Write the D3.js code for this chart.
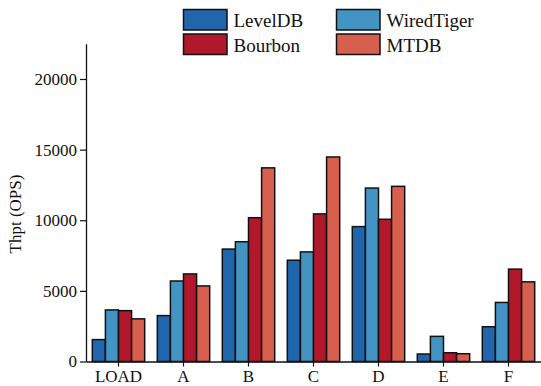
<!DOCTYPE html>
<html>
<head>
<meta charset="utf-8">
<script src="https://cdn.jsdelivr.net/npm/d3@7"></script>
<style>
  html, body { margin: 0; padding: 0; background: #fff; }
  svg { display: block; }
  text { font-family: "Liberation Serif", "Times New Roman", serif; fill: #111; }
</style>
</head>
<body>
<svg id="chart" width="541" height="386"></svg>
<script>
// Workloads (YCSB) and stores compared
const categories = ["LOAD", "A", "B", "C", "D", "E", "F"];
const seriesNames = ["LevelDB", "WiredTiger", "Bourbon", "MTDB"];
const seriesColors = ["#2166ac", "#4393c3", "#b2182b", "#d6604d"];

// Throughput per workload (ops/s)
const levelDB    = [1550, 3250, 7960, 7170, 9550, 530, 2460];
const wiredTiger = [3650, 5700, 8480, 7760, 12280, 1780, 4180];
const bourbon    = [3600, 6200, 10180, 10450, 10070, 620, 6540];
const mtdb       = [3020, 5350, 13710, 14480, 12400, 550, 5640];

const yTicks = [0, 5000, 10000, 15000, 20000];
const yLabel = "Thpt (OPS)";

const seriesValues = [levelDB, wiredTiger, bourbon, mtdb];

const svg = d3.select("#chart");
const plotLeft = 86, plotRight = 541, plotTop = 43.7, plotBottom = 361.5;

const x = d3.scaleBand().domain(categories).range([plotLeft, plotRight])
  .paddingInner(0.194).paddingOuter(0.097);
const x1 = d3.scaleBand().domain(seriesNames).range([0, x.bandwidth()]).padding(0);
const y = d3.scaleLinear().domain([0, 22500]).range([plotBottom, plotTop]);
const color = d3.scaleOrdinal().domain(seriesNames).range(seriesColors);

// Bars
const groups = svg.append("g").selectAll("g")
  .data(categories)
  .join("g")
  .attr("transform", d => `translate(${x(d)},0)`);

groups.selectAll("rect")
  .data((c, i) => seriesNames.map((s, k) => ({ s, v: seriesValues[k][i] })))
  .join("rect")
  .attr("x", d => x1(d.s))
  .attr("width", x1.bandwidth())
  .attr("y", d => y(d.v))
  .attr("height", d => y(0) - y(d.v))
  .attr("fill", d => color(d.s))
  .attr("stroke", "#111")
  .attr("stroke-width", 1.5);

// Axes
const yAxis = svg.append("g")
  .attr("transform", `translate(${plotLeft},0)`)
  .call(d3.axisLeft(y).tickValues(yTicks).tickSize(6).tickSizeOuter(0).tickPadding(3).tickFormat(d3.format("d")));
const xAxis = svg.append("g")
  .attr("transform", `translate(0,${plotBottom})`)
  .call(d3.axisBottom(x).tickSize(5).tickSizeOuter(0).tickPadding(3));

[yAxis, xAxis].forEach(a => {
  a.attr("font-family", null);
  a.select(".domain").attr("stroke", "#111").attr("stroke-width", 1.3);
  a.selectAll(".tick line").attr("stroke", "#111").attr("stroke-width", 1.2);
  a.selectAll("text").attr("fill", "#111").attr("font-size", 17);
});

svg.append("text")
  .attr("transform", "translate(21,214) rotate(-90)")
  .attr("text-anchor", "middle")
  .attr("font-size", 17)
  .text(yLabel);

// Legend (2 x 2)
const legend = svg.append("g");
seriesNames.forEach((s, i) => {
  const col = i % 2, row = Math.floor(i / 2);
  const gx = 183.5 + col * 153, gy = 9.5 + row * 24.5;
  legend.append("rect")
    .attr("x", gx).attr("y", gy).attr("width", 43.5).attr("height", 20.5)
    .attr("fill", color(s)).attr("stroke", "#111").attr("stroke-width", 1.5);
  legend.append("text")
    .attr("x", gx + 50).attr("y", gy + 17.8)
    .attr("font-size", 19)
    .text(s);
});
</script>
</body>
</html>
